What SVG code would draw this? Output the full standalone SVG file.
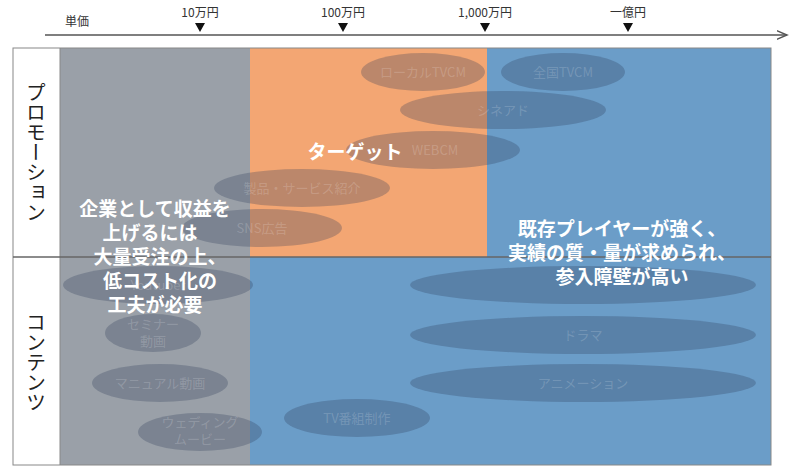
<svg xmlns="http://www.w3.org/2000/svg" width="800" height="472" viewBox="0 0 800 472">
<style>
text{font-family:"Noto Sans CJK JP","Noto Sans",sans-serif}
.ax{font-size:12px;fill:#333}
.e{fill:#2a3a55;fill-opacity:0.28}
.et{font-size:13px;fill:#ffffff;fill-opacity:0.18;text-anchor:middle}
.big{font-size:19px;font-weight:bold;fill:#fff;text-anchor:middle}
.side{font-size:20px;fill:#222;writing-mode:vertical-rl;text-orientation:upright}
</style>
<defs><marker id="ar" markerWidth="8" markerHeight="8" refX="7" refY="4" orient="auto"><path d="M0,1 L7,4 L0,7" fill="none" stroke="#555" stroke-width="1"/></marker></defs>
<g id="axis">
<line x1="45" y1="35" x2="787" y2="35" stroke="#555" stroke-width="1.5" marker-end="url(#ar)"/>
<text class="ax" x="65" y="26">単価</text>
<text class="ax" x="200" y="17" text-anchor="middle">10万円</text>
<text class="ax" x="343" y="17" text-anchor="middle">100万円</text>
<text class="ax" x="485" y="17" text-anchor="middle">1,000万円</text>
<text class="ax" x="628" y="17" text-anchor="middle">一億円</text>
<path d="M195,23 h10 l-5,9 z M338,23 h10 l-5,9 z M480,23 h10 l-5,9 z M623,23 h10 l-5,9 z" fill="#111"/>
</g>
<g id="regions">
<rect x="60" y="48" width="190" height="417" fill="#9aa0a8"/>
<rect x="250" y="48" width="237" height="209" fill="#f3a673"/>
<rect x="250" y="257" width="237" height="208" fill="#6b9dc8"/>
<rect x="487" y="48" width="284" height="417" fill="#6b9dc8"/>
<rect x="13" y="48" width="758" height="417" fill="none" stroke="#888" stroke-width="1"/>
<line x1="60" y1="48" x2="60" y2="465" stroke="#888"/>
<line x1="13" y1="257" x2="771" y2="257" stroke="#666" stroke-width="1.5"/>
<text class="side" x="36" y="82">プロモーション</text>
<text class="side" x="36" y="312">コンテンツ</text>
</g>
<g id="items">
<ellipse class="e" cx="423" cy="72" rx="62" ry="19"/><text class="et" x="423" y="77">ローカルTVCM</text>
<ellipse class="e" cx="563" cy="72" rx="62" ry="19"/><text class="et" x="563" y="77">全国TVCM</text>
<ellipse class="e" cx="503" cy="110" rx="103" ry="19"/><text class="et" x="503" y="115">シネアド</text>
<ellipse class="e" cx="433" cy="150" rx="87" ry="19"/><text class="et" x="435" y="155">WEBCM</text>
<ellipse class="e" cx="302" cy="188" rx="88" ry="19"/><text class="et" x="302" y="193">製品・サービス紹介</text>
<ellipse class="e" cx="262" cy="228" rx="80" ry="19"/><text class="et" x="262" y="233">SNS広告</text>
<ellipse class="e" cx="158" cy="285" rx="95" ry="19"/><text class="et" x="158" y="290">Youtuber</text>
<ellipse class="e" cx="153" cy="333" rx="48" ry="19"/><text class="et" x="153" y="329">セミナー</text><text class="et" x="153" y="346">動画</text>
<ellipse class="e" cx="160" cy="383" rx="68" ry="19"/><text class="et" x="160" y="388">マニュアル動画</text>
<ellipse class="e" cx="200" cy="432" rx="62" ry="19"/><text class="et" x="200" y="427">ウェディング</text><text class="et" x="200" y="444">ムービー</text>
<ellipse class="e" cx="357" cy="418" rx="73" ry="19"/><text class="et" x="357" y="423">TV番組制作</text>
<ellipse class="e" cx="583" cy="285" rx="173" ry="19"/>
<ellipse class="e" cx="583" cy="335" rx="173" ry="19"/><text class="et" x="583" y="340">ドラマ</text>
<ellipse class="e" cx="583" cy="383" rx="173" ry="19"/><text class="et" x="583" y="388">アニメーション</text>
</g>
<g id="notes">
<text class="big" x="355" y="159">ターゲット</text>
<text class="big" x="155" y="216">企業として収益を</text>
<text class="big" x="150" y="240">上げるには</text>
<text class="big" x="160" y="264">大量受注の上、</text>
<text class="big" x="160" y="288">低コスト化の</text>
<text class="big" x="155" y="312">工夫が必要</text>
<text class="big" x="622" y="236">既存プレイヤーが強く、</text>
<text class="big" x="622" y="260">実績の質・量が求められ、</text>
<text class="big" x="622" y="284">参入障壁が高い</text>
</g>
</svg>
